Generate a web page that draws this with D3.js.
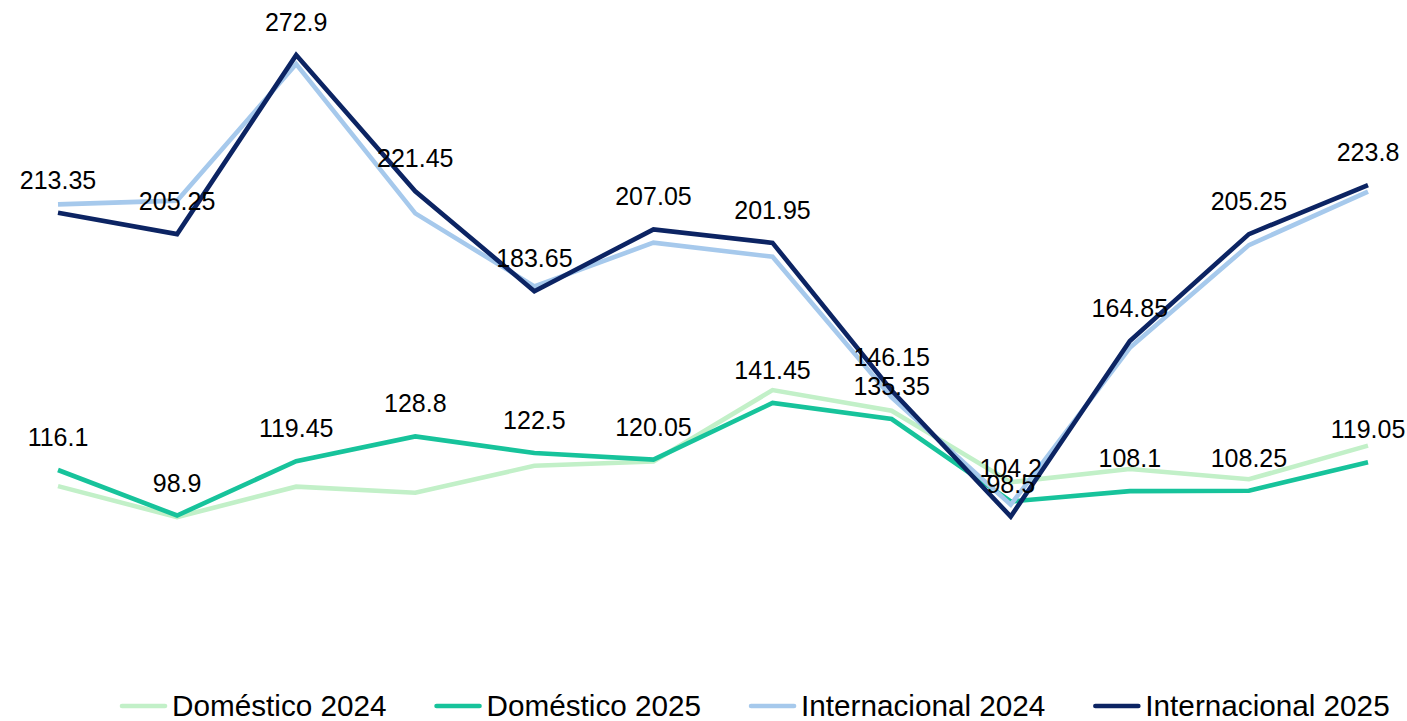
<!DOCTYPE html>
<html>
<head>
<meta charset="utf-8">
<script src="https://cdn.jsdelivr.net/npm/d3@7"></script>
<style>
  html, body { margin: 0; padding: 0; background: #fff; }
  svg { display: block; }
  text { font-family: "Liberation Sans", Arial, sans-serif; fill: #000; }
</style>
</head>
<body>
<svg id="chart" width="1407" height="721"></svg>
<script>
// ---- Data ----
const categories = ["Ene","Feb","Mar","Abr","May","Jun","Jul","Ago","Sep","Oct","Nov","Dic"];
const domestico2024 = [110.0, 98.3, 109.8, 107.5, 117.7, 119.3, 146.3, 138.5, 111.5, 116.5, 112.6, 125.3];
const domestico2025 = [116.1, 98.9, 119.45, 128.8, 122.5, 120.05, 141.45, 135.35, 104.2, 108.1, 108.25, 119.05];
const internacional2024 = [216.5, 217.9, 269.5, 213.1, 185.5, 202.0, 196.7, 143.5, 103.0, 162.3, 201.1, 221.3];
const internacional2025 = [213.35, 205.25, 272.9, 221.45, 183.65, 207.05, 201.95, 146.15, 98.5, 164.85, 205.25, 223.8];
const seriesNames = ["Doméstico 2024", "Doméstico 2025", "Internacional 2024", "Internacional 2025"];
const seriesColors = ["#c2f0c8", "#17c39b", "#a6c9ec", "#0c2463"];
const labelled = [false, true, false, true];

const series = [domestico2024, domestico2025, internacional2024, internacional2025].map((vals, i) => ({
  name: seriesNames[i], color: seriesColors[i], values: vals, label: labelled[i]
}));

// ---- Layout ----
const svg = d3.select("#chart");
const x = d3.scalePoint().domain(categories).range([58, 1368]);
const y = d3.scaleLinear().domain([0, 300]).range([777.2, -16.6]);

const line = d3.line()
  .x((d, i) => x(categories[i]))
  .y(d => y(d));

const gLines = svg.append("g");
series.forEach(s => {
  gLines.append("path")
    .datum(s.values)
    .attr("d", line)
    .attr("fill", "none")
    .attr("stroke", s.color)
    .attr("stroke-width", 4.6)
    .attr("stroke-linejoin", "miter")
    .attr("stroke-linecap", "butt");
});

const gLabels = svg.append("g");
series.filter(s => s.label).forEach(s => {
  gLabels.selectAll(null)
    .data(s.values)
    .enter().append("text")
    .attr("x", (d, i) => x(categories[i]))
    .attr("y", d => y(d) - 24)
    .attr("text-anchor", "middle")
    .attr("font-size", 25)
    .text(d => d);
});

// ---- Legend ----
const legend = svg.append("g");
let lx = 122;
const ly = 706;
series.forEach(s => {
  legend.append("line")
    .attr("x1", lx).attr("x2", lx + 43)
    .attr("y1", ly).attr("y2", ly)
    .attr("stroke", s.color)
    .attr("stroke-width", 4.6)
    .attr("stroke-linecap", "round");
  const t = legend.append("text")
    .attr("x", lx + 50)
    .attr("y", ly + 10)
    .attr("font-size", 29.7)
    .text(s.name);
  const w = t.node().getComputedTextLength();
  lx = lx + 50 + w + 50;
});
</script>
</body>
</html>
